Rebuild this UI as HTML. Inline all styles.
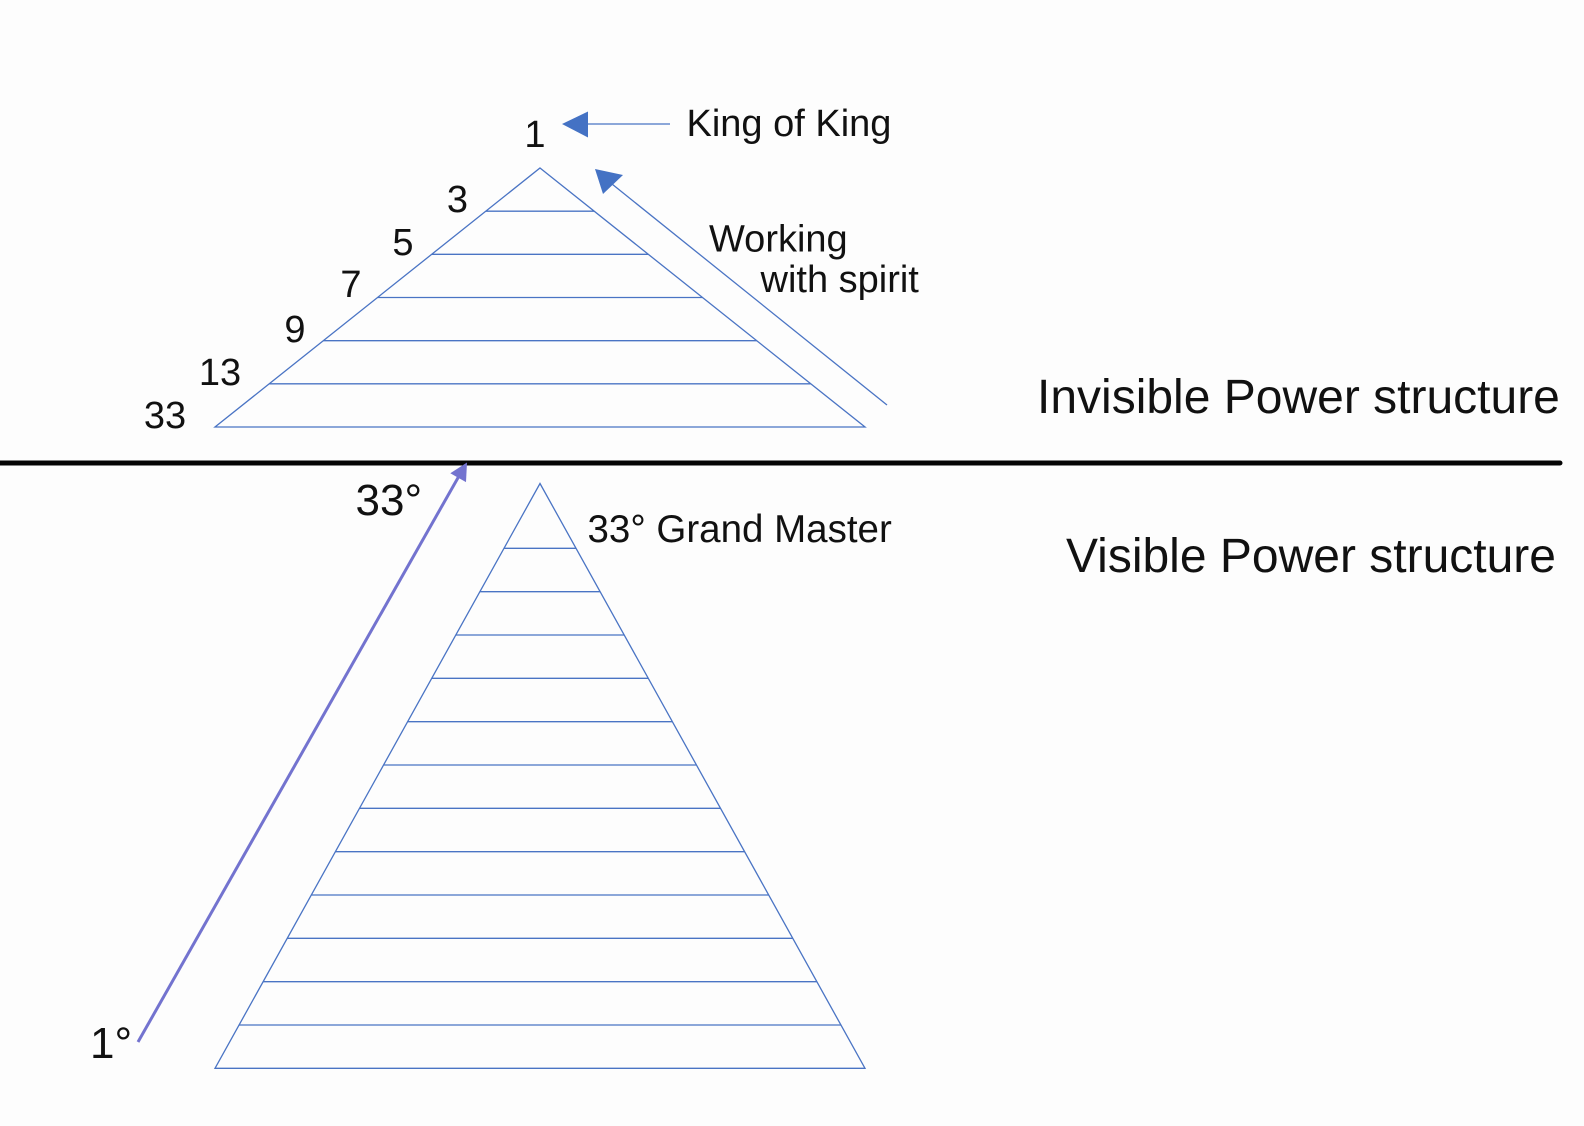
<!DOCTYPE html>
<html>
<head>
<meta charset="utf-8">
<style>
  html, body { margin: 0; padding: 0; background: #fdfdfd; }
  svg { display: block; }
  text { font-family: "Liberation Sans", Arial, sans-serif; fill: #111; }
</style>
</head>
<body>
<svg width="1584" height="1126" viewBox="0 0 1584 1126" xmlns="http://www.w3.org/2000/svg">
  <rect x="0" y="0" width="1584" height="1126" fill="#fdfdfd"/>

  <!-- Top pyramid -->
  <g stroke="#4a74c4" stroke-width="1.3" fill="none">
    <polygon points="540,168 865,427 215,427"/>
    <line x1="485.8" y1="211.2" x2="594.2" y2="211.2"/>
    <line x1="431.7" y1="254.3" x2="648.3" y2="254.3"/>
    <line x1="377.5" y1="297.5" x2="702.5" y2="297.5"/>
    <line x1="323.3" y1="340.7" x2="756.7" y2="340.7"/>
    <line x1="269.2" y1="383.8" x2="810.8" y2="383.8"/>
  </g>

  <!-- King of King arrow -->
  <line x1="586" y1="124" x2="670" y2="124" stroke="#4a74c4" stroke-width="1.3"/>
  <polygon points="562,124 588,111.5 588,137.5" fill="#4472c4"/>

  <!-- Working with spirit arrow -->
  <line x1="612" y1="184" x2="887" y2="405" stroke="#4a74c4" stroke-width="1.3"/>
  <polygon points="595,169 603,194 623,175" fill="#4472c4"/>

  <!-- Divider -->
  <line x1="0" y1="463" x2="1560" y2="463" stroke="#050505" stroke-width="5" stroke-linecap="round"/>

  <!-- Bottom pyramid -->
  <g stroke="#4a74c4" stroke-width="1.3" fill="none">
    <polygon points="540,483.5 865,1068.3 215,1068.3"/>
    <line x1="504" y1="548.3" x2="576" y2="548.3"/>
    <line x1="479.9" y1="591.7" x2="600.1" y2="591.7"/>
    <line x1="455.8" y1="635" x2="624.2" y2="635"/>
    <line x1="431.7" y1="678.3" x2="648.3" y2="678.3"/>
    <line x1="407.6" y1="721.7" x2="672.4" y2="721.7"/>
    <line x1="383.6" y1="765" x2="696.4" y2="765"/>
    <line x1="359.5" y1="808.3" x2="720.5" y2="808.3"/>
    <line x1="335.4" y1="851.7" x2="744.6" y2="851.7"/>
    <line x1="311.3" y1="895" x2="768.7" y2="895"/>
    <line x1="287.3" y1="938.3" x2="792.7" y2="938.3"/>
    <line x1="263.1" y1="981.7" x2="816.9" y2="981.7"/>
    <line x1="239.1" y1="1025" x2="840.9" y2="1025"/>
  </g>

  <!-- Purple arrow -->
  <line x1="138" y1="1042" x2="459" y2="476" stroke="#7373cf" stroke-width="3"/>
  <polygon points="467,462.5 450.3,473.3 466,482.1" fill="#7373cf"/>

  <!-- Labels top -->
  <text x="535" y="147" font-size="38" text-anchor="middle">1</text>
  <text x="686.5" y="136" font-size="38">King of King</text>
  <text x="709" y="251.5" font-size="38">Working</text>
  <text x="760.5" y="292" font-size="38">with spirit</text>

  <text x="457.5" y="212" font-size="38" text-anchor="middle">3</text>
  <text x="403" y="255" font-size="38" text-anchor="middle">5</text>
  <text x="351" y="297" font-size="38" text-anchor="middle">7</text>
  <text x="295" y="342" font-size="38" text-anchor="middle">9</text>
  <text x="220" y="385" font-size="38" text-anchor="middle">13</text>
  <text x="165" y="428" font-size="38" text-anchor="middle">33</text>

  <!-- Right titles -->
  <text x="1037" y="413" font-size="48">Invisible Power structure</text>
  <text x="1066" y="572" font-size="48">Visible Power structure</text>

  <!-- Labels bottom -->
  <text x="355.5" y="515" font-size="44">33°</text>
  <text x="587.5" y="542" font-size="38.5">33° Grand Master</text>
  <text x="90" y="1058" font-size="44">1°</text>
</svg>
</body>
</html>
